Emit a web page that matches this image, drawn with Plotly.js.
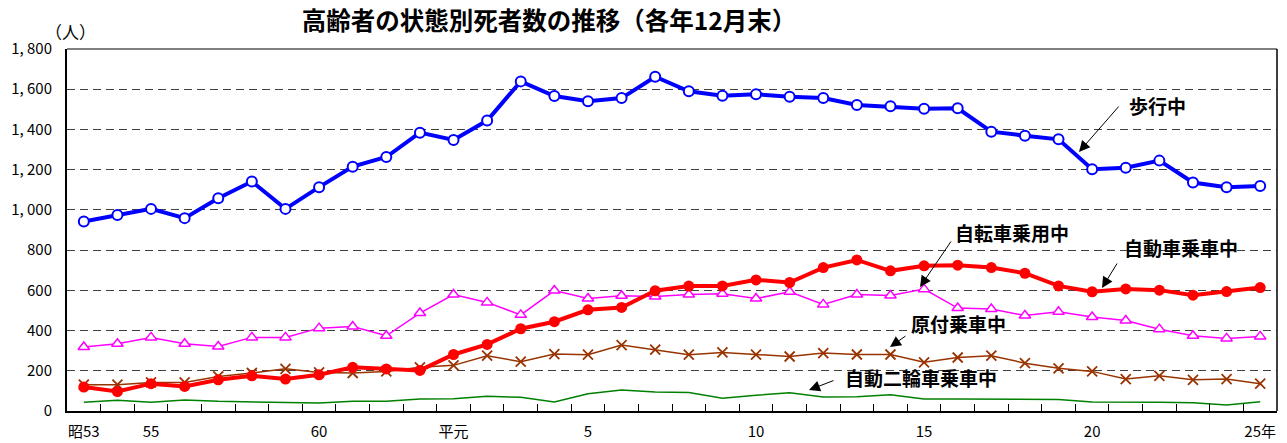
<!DOCTYPE html>
<html>
<head>
<meta charset="utf-8">
<script src="https://cdn.plot.ly/plotly-3.0.1.min.js"></script>
<style>html,body{margin:0;padding:0;background:#fff;}#chart{width:1287px;height:443px;}</style>
</head>
<body>
<div id="chart"></div>
<script>
// Years: 昭和53 (1978) ... 平成25 (2013)
const years = ['昭53','54','55','56','57','58','59','60','61','62','63','平元','2','3','4','5','6','7','8','9','10','11','12','13','14','15','16','17','18','19','20','21','22','23','24','25'];
const tickYears = ['昭53','55','60','平元','5','10','15','20','25'];
const tickYearText = ['昭53','55','60','平元','5','10','15','20','25年'];

const hokou = [942,975,1005,959,1058,1141,1005,1113,1215,1263,1384,1348,1444,1639,1566,1540,1556,1662,1590,1568,1575,1563,1556,1522,1515,1503,1505,1389,1369,1351,1202,1210,1245,1136,1113,1119];
const jidousha = [119,97,136,122,155,175,159,180,217,209,202,281,331,409,444,503,515,598,621,622,652,639,713,751,697,722,725,713,685,622,593,607,601,576,594,614];
const jitensha = [318,334,366,334,321,366,366,412,420,374,487,579,540,478,599,559,573,569,579,583,559,593,530,579,574,606,512,507,475,493,467,450,407,374,361,371];
const gentsuki = [131,131,142,142,172,189,210,192,189,197,217,227,275,245,283,280,328,305,280,291,280,271,288,281,281,242,266,275,238,212,197,159,175,155,159,136];
const nirin = [43,53,43,55,48,45,45,40,48,48,60,61,73,68,45,86,104,94,92,63,78,91,70,71,81,60,60,59,55,57,45,45,43,41,30,46];

const yTickVals = [0,200,400,600,800,1000,1200,1400,1600,1800];
const yTickText = ['0','200','400','600','800','1, 000','1, 200','1, 400','1, 600','1, 800'];
const boundaryTicks = [];
for (let k = 0; k < years.length - 1; k++) boundaryTicks.push(k + 0.5);

const FONT = '"Noto Sans CJK JP", "Noto Sans", sans-serif';

const traces = [
  {x: years, y: nirin, name: '自動二輪車乗車中', mode: 'lines', line: {color: '#008000', width: 1.5}},
  {x: years, y: gentsuki, name: '原付乗車中', mode: 'lines+markers', line: {color: '#993300', width: 1.5},
   marker: {symbol: 'x-thin-open', size: 10, line: {color: '#993300', width: 1.8}}},
  {x: years, y: jitensha, name: '自転車乗用中', mode: 'lines+markers', line: {color: '#FF00FF', width: 1.5},
   marker: {symbol: 'triangle-up', size: 10, color: '#FFFFFF', line: {color: '#FF00FF', width: 1.5}}},
  {x: years, y: jidousha, name: '自動車乗車中', mode: 'lines+markers', line: {color: '#FF0000', width: 4},
   marker: {symbol: 'circle', size: 11, color: '#FF0000'}},
  {x: years, y: hokou, name: '歩行中', mode: 'lines+markers', line: {color: '#0000FF', width: 4},
   marker: {symbol: 'circle', size: 10, color: '#FFFFFF', line: {color: '#0000FF', width: 2}}}
];

const W = 1287, H = 443;
const PL = 67, PR = 1277, PT = 49, PB = 411;
const px = v => (v - PL) / (PR - PL), py = v => (PB - v) / (PB - PT);
const labels = [
  {text: '歩行中', cx: 1157, cy: 105, ax0: 1120, ay0: 105, ax1: 1079, ay1: 152},
  {text: '自転車乗用中', cx: 1012, cy: 232, ax0: 952, ay0: 240, ax1: 920, ay1: 287},
  {text: '自動車乗車中', cx: 1181, cy: 247, ax0: 1118, ay0: 262, ax1: 1102, ay1: 288},
  {text: '原付乗車中', cx: 958, cy: 323, ax0: 907, ay0: 335, ax1: 890, ay1: 347},
  {text: '自動二輪車乗車中', cx: 921, cy: 377, ax0: 835, ay0: 380, ax1: 809, ay1: 390}
];
const annotations = [];
labels.forEach(l => {
  annotations.push({xref: 'paper', yref: 'paper', x: px(l.cx), y: py(l.cy), text: '<b>' + l.text + '</b>',
    showarrow: false, font: {family: FONT, size: 19, color: '#000'}, xanchor: 'center', yanchor: 'middle'});
  annotations.push({xref: 'paper', yref: 'paper', x: px(l.ax1), y: py(l.ay1), axref: 'pixel', ayref: 'pixel',
    ax: l.ax0 - l.ax1, ay: l.ay0 - l.ay1, text: '', showarrow: true, arrowhead: 2, arrowsize: 2.2,
    arrowwidth: 1, arrowcolor: '#000'});
});
annotations.push({xref: 'paper', yref: 'paper', x: px(70), y: py(32), text: '（人）', showarrow: false,
  font: {family: FONT, size: 17, color: '#000'}, xanchor: 'center', yanchor: 'middle'});

const layout = {
  width: W, height: H,
  margin: {l: PL, r: W - PR, t: PT, b: H - PB},
  paper_bgcolor: '#fff', plot_bgcolor: '#fff',
  showlegend: false,
  title: {text: '<b>高齢者の状態別死者数の推移（各年12月末）</b>', x: 549 / W, xanchor: 'center', y: 1 - 21 / H, yanchor: 'middle',
    font: {family: FONT, size: 24.5, color: '#000'}},
  xaxis: {type: 'category', range: [-0.5, 35.5], tickmode: 'array', tickvals: tickYears, ticktext: tickYearText,
    ticks: '', showgrid: false, zeroline: false, showline: true, linecolor: '#000', linewidth: 2,
    ticklabelstandoff: 6, tickfont: {family: FONT, size: 15, color: '#000'}},
  xaxis2: {overlaying: 'x', anchor: 'y', side: 'bottom', type: 'linear', range: [-0.5, 35.5], tickmode: 'array',
    tickvals: boundaryTicks, ticks: 'inside', ticklen: 7, tickwidth: 1, tickcolor: '#000', showticklabels: false,
    showgrid: false, zeroline: false, showline: false},
  yaxis: {range: [0, 1800], tickmode: 'array', tickvals: yTickVals, ticktext: yTickText, ticks: '',
    showgrid: true, gridcolor: '#404040', gridwidth: 1, griddash: '8px,5px', zeroline: false,
    showline: true, linecolor: '#000', linewidth: 2, ticklabelstandoff: 10,
    tickfont: {family: FONT, size: 15, color: '#000'}},
  shapes: [
    {type: 'line', xref: 'paper', yref: 'paper', x0: 0, x1: 1, y0: 1, y1: 1, line: {color: '#000', width: 1}},
    {type: 'line', xref: 'paper', yref: 'paper', x0: 1, x1: 1, y0: 0, y1: 1, line: {color: '#000', width: 1.5}}
  ],
  annotations: annotations
};

const dummy = {x: [0], y: [0], xaxis: 'x2', yaxis: 'y', mode: 'markers', marker: {opacity: 0}, hoverinfo: 'skip'};
Plotly.newPlot('chart', traces.concat([dummy]), layout, {displayModeBar: false, staticPlot: true});
</script>
</body>
</html>
